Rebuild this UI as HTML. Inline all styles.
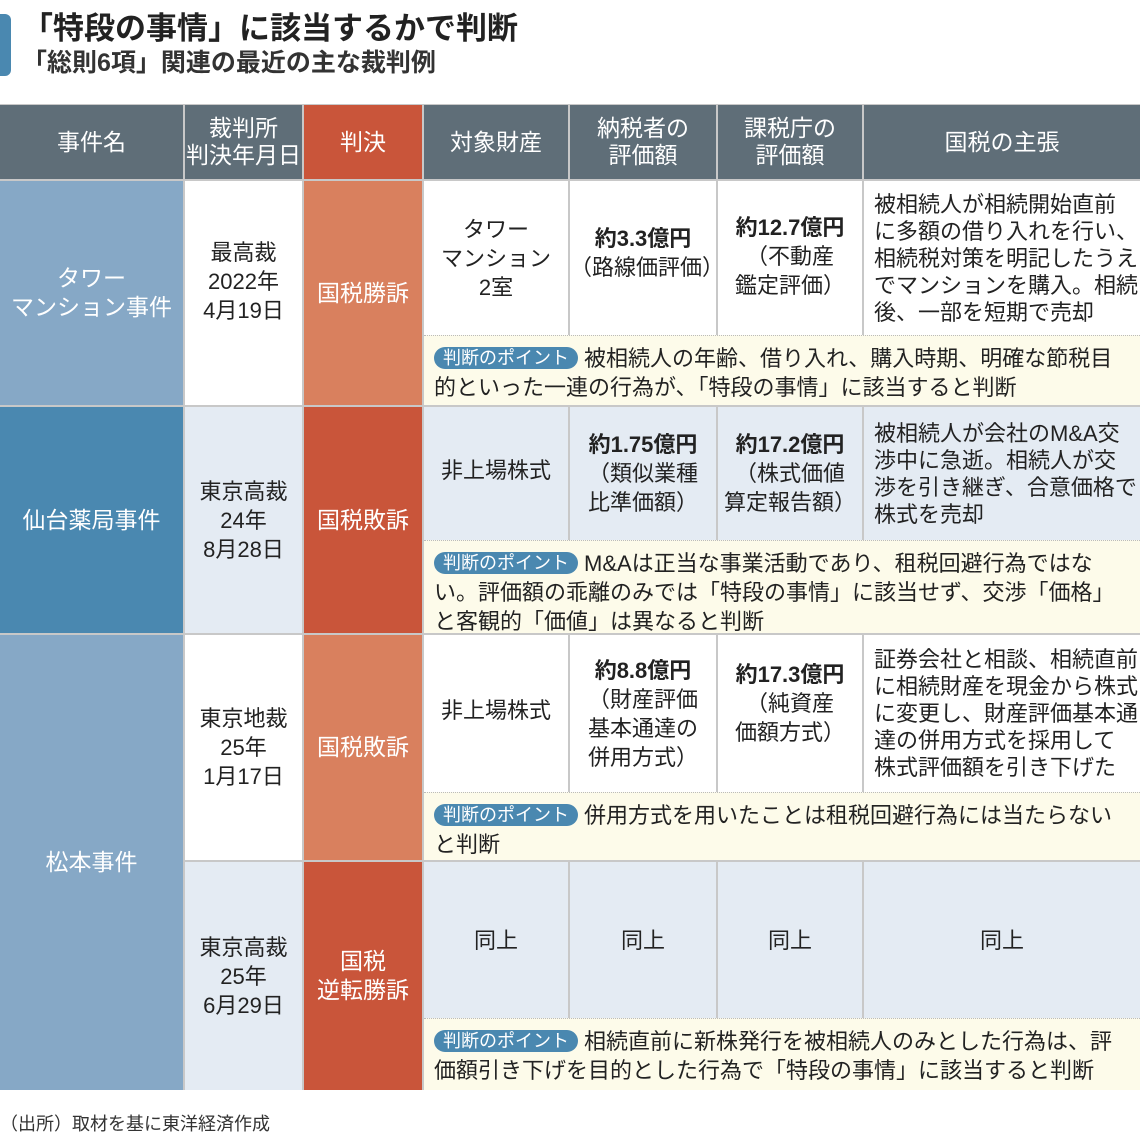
<!DOCTYPE html>
<html><head><meta charset="utf-8"><style>
*{margin:0;padding:0;box-sizing:border-box}
body{width:1140px;height:1146px;background:#fff;font-family:"Liberation Sans","Noto Sans CJK JP",sans-serif;color:#222;position:relative;overflow:hidden}
.a{position:absolute;display:flex;align-items:center;justify-content:center;text-align:center;font-size:22px;line-height:29px}
.h{background:#5f6e78;color:#fff;font-size:23px;line-height:27px}
.r{background:#c9553a;color:#fff}
.lo{background:#d9805e;color:#fff}
.bl{background:#86a8c6;color:#fff;font-size:23px}
.bd{background:#4a88b0;color:#fff;font-size:23px}
.w{background:#fff}
.lb{background:#e4ebf3}
.cr{background:#fdfbea;justify-content:flex-start;text-align:left;padding:0 8px 0 10px;border-top:1px dotted #bbb;display:block;padding-top:8px}
.pill{display:inline-block;background:#4a88b0;color:#fff;border-radius:11px;font-size:18px;line-height:22px;padding:0 9px;margin-right:6px;vertical-align:2px}
.t{justify-content:flex-start;text-align:left;padding-left:10px;line-height:27px}
b{font-weight:bold}
</style></head><body>
<div style="position:absolute;left:0;top:14px;width:11px;height:62px;background:#4a88b0;border-radius:0 6px 6px 0"></div>
<div style="position:absolute;left:22px;top:10px;font-size:31px;font-weight:bold;line-height:38px">「特段の事情」に該当するかで判断</div>
<div style="position:absolute;left:22px;top:48px;font-size:25px;font-weight:bold;line-height:30px;color:#333">「総則6項」関連の最近の主な裁判例</div>

<div style="position:absolute;left:0;top:104px;width:1140px;height:986px;background:#c8c8c8"></div>

<div class="a h" style="left:0;top:105px;width:183px;height:74px">事件名</div>
<div class="a h" style="left:185px;top:105px;width:117px;height:74px">裁判所<br>判決年月日</div>
<div class="a r" style="left:304px;top:105px;width:118px;height:74px;font-size:23px">判決</div>
<div class="a h" style="left:424px;top:105px;width:144px;height:74px">対象財産</div>
<div class="a h" style="left:570px;top:105px;width:146px;height:74px">納税者の<br>評価額</div>
<div class="a h" style="left:718px;top:105px;width:144px;height:74px">課税庁の<br>評価額</div>
<div class="a h" style="left:864px;top:105px;width:276px;height:74px">国税の主張</div>

<!-- row1 -->
<div class="a bl" style="left:0;top:181px;width:183px;height:224px">タワー<br>マンション事件</div>
<div class="a w" style="left:185px;top:181px;width:117px;height:224px;padding-bottom:24px">最高裁<br>2022年<br>4月19日</div>
<div class="a lo" style="left:304px;top:181px;width:118px;height:224px;font-size:23px">国税勝訴</div>
<div class="a w" style="left:424px;top:181px;width:144px;height:154px">タワー<br>マンション<br>2室</div>
<div class="a w" style="left:570px;top:181px;width:146px;height:154px;padding-bottom:10px"><div><b>約3.3億円</b><br>（路線価評価）</div></div>
<div class="a w" style="left:718px;top:181px;width:144px;height:154px;padding-bottom:4px"><div><b>約12.7億円</b><br>（不動産<br>鑑定評価）</div></div>
<div class="a w t" style="left:864px;top:181px;width:276px;height:154px">被相続人が相続開始直前<br>に多額の借り入れを行い、<br>相続税対策を明記したうえ<br>でマンションを購入。相続<br>後、一部を短期で売却</div>
<div class="a cr" style="left:424px;top:335px;width:716px;height:70px"><span class="pill">判断のポイント</span>被相続人の年齢、借り入れ、購入時期、明確な節税目的といった一連の行為が、「特段の事情」に該当すると判断</div>

<!-- row2 -->
<div class="a bd" style="left:0;top:407px;width:183px;height:226px">仙台薬局事件</div>
<div class="a lb" style="left:185px;top:407px;width:117px;height:226px">東京高裁<br>24年<br>8月28日</div>
<div class="a r" style="left:304px;top:407px;width:118px;height:226px;font-size:23px">国税敗訴</div>
<div class="a lb" style="left:424px;top:407px;width:144px;height:133px;padding-bottom:6px">非上場株式</div>
<div class="a lb" style="left:570px;top:407px;width:146px;height:133px"><div><b>約1.75億円</b><br>（類似業種<br>比準価額）</div></div>
<div class="a lb" style="left:718px;top:407px;width:144px;height:133px"><div><b>約17.2億円</b><br>（株式価値<br>算定報告額）</div></div>
<div class="a lb t" style="left:864px;top:407px;width:276px;height:133px">被相続人が会社のM&amp;A交<br>渉中に急逝。相続人が交<br>渉を引き継ぎ、合意価格で<br>株式を売却</div>
<div class="a cr" style="left:424px;top:540px;width:716px;height:93px"><span class="pill">判断のポイント</span>M&amp;Aは正当な事業活動であり、租税回避行為ではない。評価額の乖離のみでは「特段の事情」に該当せず、交渉「価格」と客観的「価値」は異なると判断</div>

<!-- row3/4 -->
<div class="a bl" style="left:0;top:635px;width:183px;height:455px">松本事件</div>
<div class="a w" style="left:185px;top:635px;width:117px;height:225px">東京地裁<br>25年<br>1月17日</div>
<div class="a lo" style="left:304px;top:635px;width:118px;height:225px;font-size:23px">国税敗訴</div>
<div class="a w" style="left:424px;top:635px;width:144px;height:157px;padding-bottom:6px">非上場株式</div>
<div class="a w" style="left:570px;top:635px;width:146px;height:157px"><div><b>約8.8億円</b><br>（財産評価<br>基本通達の<br>併用方式）</div></div>
<div class="a w" style="left:718px;top:635px;width:144px;height:157px;padding-bottom:20px"><div><b>約17.3億円</b><br>（純資産<br>価額方式）</div></div>
<div class="a w t" style="left:864px;top:635px;width:276px;height:157px">証券会社と相談、相続直前<br>に相続財産を現金から株式<br>に変更し、財産評価基本通<br>達の併用方式を採用して<br>株式評価額を引き下げた</div>
<div class="a cr" style="left:424px;top:792px;width:716px;height:68px"><span class="pill">判断のポイント</span>併用方式を用いたことは租税回避行為には当たらないと判断</div>

<div class="a lb" style="left:185px;top:862px;width:117px;height:228px">東京高裁<br>25年<br>6月29日</div>
<div class="a r" style="left:304px;top:862px;width:118px;height:228px;font-size:23px">国税<br>逆転勝訴</div>
<div class="a lb" style="left:424px;top:862px;width:144px;height:156px">同上</div>
<div class="a lb" style="left:570px;top:862px;width:146px;height:156px">同上</div>
<div class="a lb" style="left:718px;top:862px;width:144px;height:156px">同上</div>
<div class="a lb" style="left:864px;top:862px;width:276px;height:156px">同上</div>
<div class="a cr" style="left:424px;top:1018px;width:716px;height:72px"><span class="pill">判断のポイント</span>相続直前に新株発行を被相続人のみとした行為は、評価額引き下げを目的とした行為で「特段の事情」に該当すると判断</div>

<div style="position:absolute;left:0;top:1112px;font-size:18px;line-height:24px;color:#333">（出所）取材を基に東洋経済作成</div>
</body></html>
